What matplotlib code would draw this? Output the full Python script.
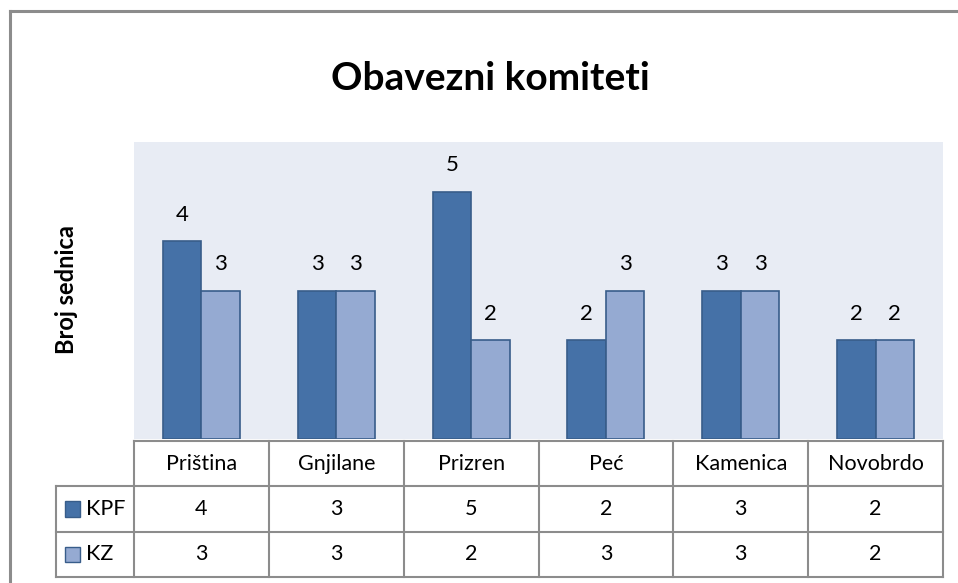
import matplotlib.pyplot as plt
from matplotlib.patches import Rectangle
from matplotlib.lines import Line2D

plt.rcParams['font.family'] = ['Lato', 'DejaVu Sans']

# podaci
gradovi = ['Priština', 'Gnjilane', 'Prizren', 'Peć', 'Kamenica', 'Novobrdo']
kpf = [4, 3, 5, 2, 3, 2]
kz = [3, 3, 2, 3, 3, 2]
serije = ['KPF', 'KZ']
boje = ['#4571A7', '#95AAD2']
ivica = '#385D8A'

W, H = 958, 583
fig = plt.figure(figsize=(W / 100, H / 100), dpi=100)


def px(x0, y0, x1, y1):
    # pikseli (gore-levo) -> koordinate figure
    return [x0 / W, 1 - y1 / H, (x1 - x0) / W, (y1 - y0) / H]


# okvir grafikona
fig.add_artist(Line2D([10 / W, 1], [1 - 11 / H] * 2, color='#8C8C8C', lw=2.2))
fig.add_artist(Line2D([10 / W] * 2, [0, 1 - 11 / H], color='#8C8C8C', lw=2.2))

fig.text(490 / W, 1 - 79 / H, 'Obavezni komiteti', ha='center', va='center',
         fontsize=28, fontweight='bold')
fig.text(66 / W, 1 - 290 / H, 'Broj sednica', ha='center', va='center',
         rotation=90, fontsize=17, fontweight='bold')

# stubici
ax = fig.add_axes(px(134, 142, 943, 439))
ax.set_facecolor('#E8ECF4')
x = range(len(gradovi))
w = 0.286
b1 = ax.bar([i - w / 2 for i in x], kpf, w, color=boje[0], edgecolor=ivica, lw=1.2)
b2 = ax.bar([i + w / 2 for i in x], kz, w, color=boje[1], edgecolor=ivica, lw=1.2)
for bars in (b1, b2):
    for r in bars:
        ax.annotate(str(int(r.get_height())), (r.get_x() + r.get_width() / 2, r.get_height()),
                    xytext=(0, 19), textcoords='offset points', ha='center', va='center',
                    fontsize=16)
ax.set_xlim(-0.5, 5.5)
ax.set_ylim(0, 6)
ax.set_xticks([])
ax.set_yticks([])
for s in ax.spines.values():
    s.set_visible(False)

# tabela sa podacima
tab = fig.add_axes(px(56, 441, 943, 577))
leg_w = 78 / 134.8
tab.set_xlim(-0.5 - leg_w, 5.5)
tab.set_ylim(0, 3)
tab.axis('off')
lc = '#8C8C8C'
lw = 1.5
left = -0.5 - leg_w
# horizontalne linije
tab.plot([-0.5, 5.5], [3, 3], color=lc, lw=lw, clip_on=False)
for yy in (0, 1, 2):
    tab.plot([left, 5.5], [yy, yy], color=lc, lw=lw, clip_on=False)
# vertikalne linije
for i in range(7):
    tab.plot([i - 0.5, i - 0.5], [0, 3], color=lc, lw=lw, clip_on=False)
tab.plot([left, left], [0, 2], color=lc, lw=lw, clip_on=False)

fs = 15.5
for i, g in enumerate(gradovi):
    tab.text(i, 2.5, g, ha='center', va='center', fontsize=fs)
    tab.text(i, 1.5, str(kpf[i]), ha='center', va='center', fontsize=fs)
    tab.text(i, 0.5, str(kz[i]), ha='center', va='center', fontsize=fs)

for k, (s, c) in enumerate(zip(serije, boje)):
    yy = 1.5 - k
    tab.add_patch(Rectangle((left + 0.07, yy - 0.17), 0.11, 0.34, facecolor=c,
                            edgecolor=ivica, lw=1))
    tab.text(left + 0.22, yy, s, ha='left', va='center', fontsize=fs)

fig.savefig('out.png', dpi=100)
